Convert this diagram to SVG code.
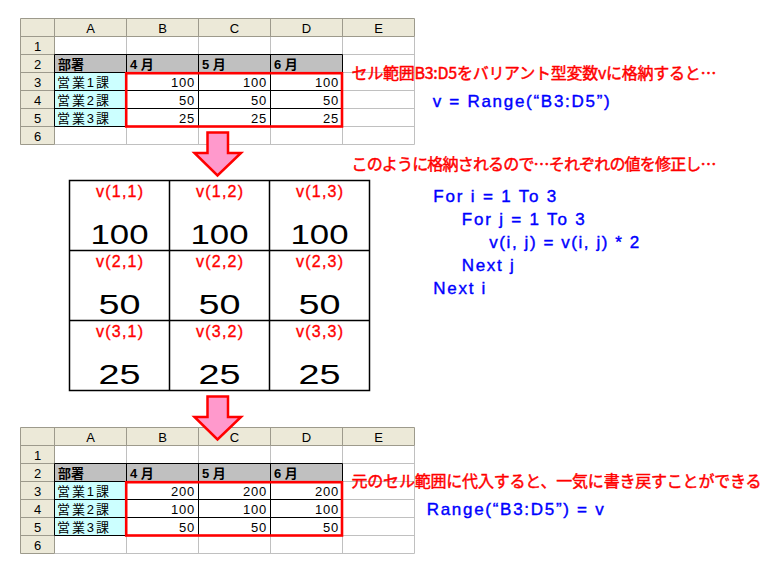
<svg xmlns="http://www.w3.org/2000/svg" width="778" height="568" viewBox="0 0 778 568">
<style>
.hdr{fill:#ECE9D8}
.hl{stroke:#9D9A8C;stroke-width:1;fill:none}
.gl{stroke:#C0C0C0;stroke-width:1;fill:none}
.bl{stroke:#000;stroke-width:1;fill:none}
.st{font-family:"Liberation Sans","Noto Sans CJK JP",sans-serif;font-size:13px;fill:#000}
.ch{text-anchor:middle}
.num{text-anchor:end}
.b{font-weight:bold}
.red{font-family:"Noto Sans CJK JP",sans-serif;font-size:16px;fill:#FF0000;stroke:#FF0000;stroke-width:0.45}
.blue{font-family:"Liberation Sans","Noto Sans CJK JP",sans-serif;font-size:17px;fill:#0000FF;stroke:#0000FF;stroke-width:0.4}
.vl{font-family:"Liberation Sans",sans-serif;font-size:16px;fill:#FF0000;stroke:#FF0000;stroke-width:0.35;text-anchor:middle}
.big{font-family:"Liberation Sans",sans-serif;font-size:28px;fill:#000;text-anchor:middle}
.arrow{fill:#FF99CC;stroke:#FF0000;stroke-width:2.5;stroke-linejoin:miter}
.sel{fill:none;stroke:#FF0000;stroke-width:2.6}
</style>
<defs>
<g id="sheet">
  <rect x="20" y="18.5" width="394.5" height="126" fill="#fff"/>
  <rect class="hdr" x="20" y="18.5" width="394.5" height="18"/>
  <rect class="hdr" x="20" y="36.5" width="34.5" height="108"/>
  <path class="gl" d="M54.5 54.5H414.5M54.5 72.5H414.5M54.5 90.5H414.5M54.5 108.5H414.5M54.5 126.5H414.5M54.5 144.5H414.5M126.5 36.5V144.5M198.5 36.5V144.5M270.5 36.5V144.5M342.5 36.5V144.5M414.5 36.5V144.5"/>
  <path class="hl" d="M20.5 18.5H414.5M20.5 36.5H414.5M20.5 18.5V144.5M54.5 18.5V144.5M126.5 18.5V36.5M198.5 18.5V36.5M270.5 18.5V36.5M342.5 18.5V36.5M414.5 18.5V36.5M20.5 54.5H54.5M20.5 72.5H54.5M20.5 90.5H54.5M20.5 108.5H54.5M20.5 126.5H54.5M20.5 144.5H54.5"/>
  <rect x="54.5" y="54.5" width="288" height="18" fill="#C0C0C0"/>
  <rect x="54.5" y="72.5" width="72" height="54" fill="#CCFFFF"/>
  <path class="bl" d="M54.5 54.5H342.5M54.5 72.5H342.5M54.5 90.5H342.5M54.5 108.5H342.5M54.5 126.5H342.5M54.5 54.5V126.5M126.5 54.5V126.5M198.5 54.5V126.5M270.5 54.5V126.5M342.5 54.5V126.5"/>
  <g class="st ch">
    <text x="90.5" y="33">A</text><text x="162.5" y="33">B</text><text x="234.5" y="33">C</text><text x="306.5" y="33">D</text><text x="378.5" y="33">E</text>
    <text x="37.5" y="51">1</text><text x="37.5" y="69">2</text><text x="37.5" y="87">3</text><text x="37.5" y="105">4</text><text x="37.5" y="123">5</text><text x="37.5" y="141">6</text>
  </g>
  <g class="st b">
    <text x="58" y="69">部署</text><text x="130" y="69">4 月</text><text x="202" y="69">5 月</text><text x="274" y="69">6 月</text>
  </g>
  <g class="st">
    <text x="57" y="87" textLength="52">営業1課</text><text x="57" y="105" textLength="52">営業2課</text><text x="57" y="123" textLength="52">営業3課</text>
  </g>
</g>
</defs>

<g id="sheet-before">
  <use href="#sheet"/>
  <g class="st num" letter-spacing="0.8">
    <text x="195" y="87">100</text><text x="267" y="87">100</text><text x="339" y="87">100</text>
    <text x="195" y="105">50</text><text x="267" y="105">50</text><text x="339" y="105">50</text>
    <text x="195" y="123">25</text><text x="267" y="123">25</text><text x="339" y="123">25</text>
  </g>
  <rect class="sel" x="126.2" y="73.2" width="215.8" height="53.3"/>
</g>

<g id="sheet-after" transform="translate(0,409)">
  <use href="#sheet"/>
  <g class="st num" letter-spacing="0.8">
    <text x="195" y="87">200</text><text x="267" y="87">200</text><text x="339" y="87">200</text>
    <text x="195" y="105">100</text><text x="267" y="105">100</text><text x="339" y="105">100</text>
    <text x="195" y="123">50</text><text x="267" y="123">50</text><text x="339" y="123">50</text>
  </g>
  <rect class="sel" x="126.2" y="73.2" width="215.8" height="53.3"/>
</g>

<g id="arrow-1">
  <polygon class="arrow" points="207.5,132.5 228,132.5 228,153 241,153 217.5,175.5 194.5,153 207.5,153"/>
</g>
<g id="arrow-2">
  <polygon class="arrow" points="207.5,396.5 228,396.5 228,417 241,417 217.5,439.5 194.5,417 207.5,417"/>
</g>

<g id="variant-array">
  <rect x="69.5" y="180.5" width="300" height="210" fill="#fff" stroke="#000" stroke-width="1.5"/>
  <path d="M169.5 180.5V390.5M269.5 180.5V390.5M69.5 250.5H369.5M69.5 320.5H369.5" stroke="#000" stroke-width="1.5" fill="none"/>
  <text class="vl" x="119.5" y="196.5" textLength="47">v(1,1)</text>
  <text class="vl" x="219.5" y="196.5" textLength="47">v(1,2)</text>
  <text class="vl" x="319.5" y="196.5" textLength="47">v(1,3)</text>
  <text class="vl" x="119.5" y="266.5" textLength="47">v(2,1)</text>
  <text class="vl" x="219.5" y="266.5" textLength="47">v(2,2)</text>
  <text class="vl" x="319.5" y="266.5" textLength="47">v(2,3)</text>
  <text class="vl" x="119.5" y="336.5" textLength="47">v(3,1)</text>
  <text class="vl" x="219.5" y="336.5" textLength="47">v(3,2)</text>
  <text class="vl" x="319.5" y="336.5" textLength="47">v(3,3)</text>
  <text class="big" x="119.5" y="244" textLength="58" lengthAdjust="spacingAndGlyphs">100</text>
  <text class="big" x="219.5" y="244" textLength="58" lengthAdjust="spacingAndGlyphs">100</text>
  <text class="big" x="319.5" y="244" textLength="58" lengthAdjust="spacingAndGlyphs">100</text>
  <text class="big" x="119.5" y="314" textLength="42" lengthAdjust="spacingAndGlyphs">50</text>
  <text class="big" x="219.5" y="314" textLength="42" lengthAdjust="spacingAndGlyphs">50</text>
  <text class="big" x="319.5" y="314" textLength="42" lengthAdjust="spacingAndGlyphs">50</text>
  <text class="big" x="119.5" y="383.5" textLength="42" lengthAdjust="spacingAndGlyphs">25</text>
  <text class="big" x="219.5" y="383.5" textLength="42" lengthAdjust="spacingAndGlyphs">25</text>
  <text class="big" x="319.5" y="383.5" textLength="42" lengthAdjust="spacingAndGlyphs">25</text>
</g>

<g id="notes">
  <text class="red" x="351.5" y="79" textLength="365">セル範囲B3:D5をバリアント型変数vに格納すると…</text>
  <text class="blue" x="432.7" y="107" textLength="177">v = Range(“B3:D5”)</text>
  <text class="red" x="351.5" y="170" textLength="365">このように格納されるので…それぞれの値を修正し…</text>
  <text class="blue" x="433.3" y="201.5" textLength="123">For i = 1 To 3</text>
  <text class="blue" x="461.7" y="224.5" textLength="123">For j = 1 To 3</text>
  <text class="blue" x="489.3" y="247.5" textLength="150">v(i, j) = v(i, j) * 2</text>
  <text class="blue" x="461.7" y="270.5" textLength="52">Next j</text>
  <text class="blue" x="433.3" y="293.5" textLength="52">Next i</text>
  <text class="red" x="351.5" y="487" textLength="410">元のセル範囲に代入すると、一気に書き戻すことができる</text>
  <text class="blue" x="426.7" y="515" textLength="177">Range(“B3:D5”) = v</text>
</g>
</svg>
